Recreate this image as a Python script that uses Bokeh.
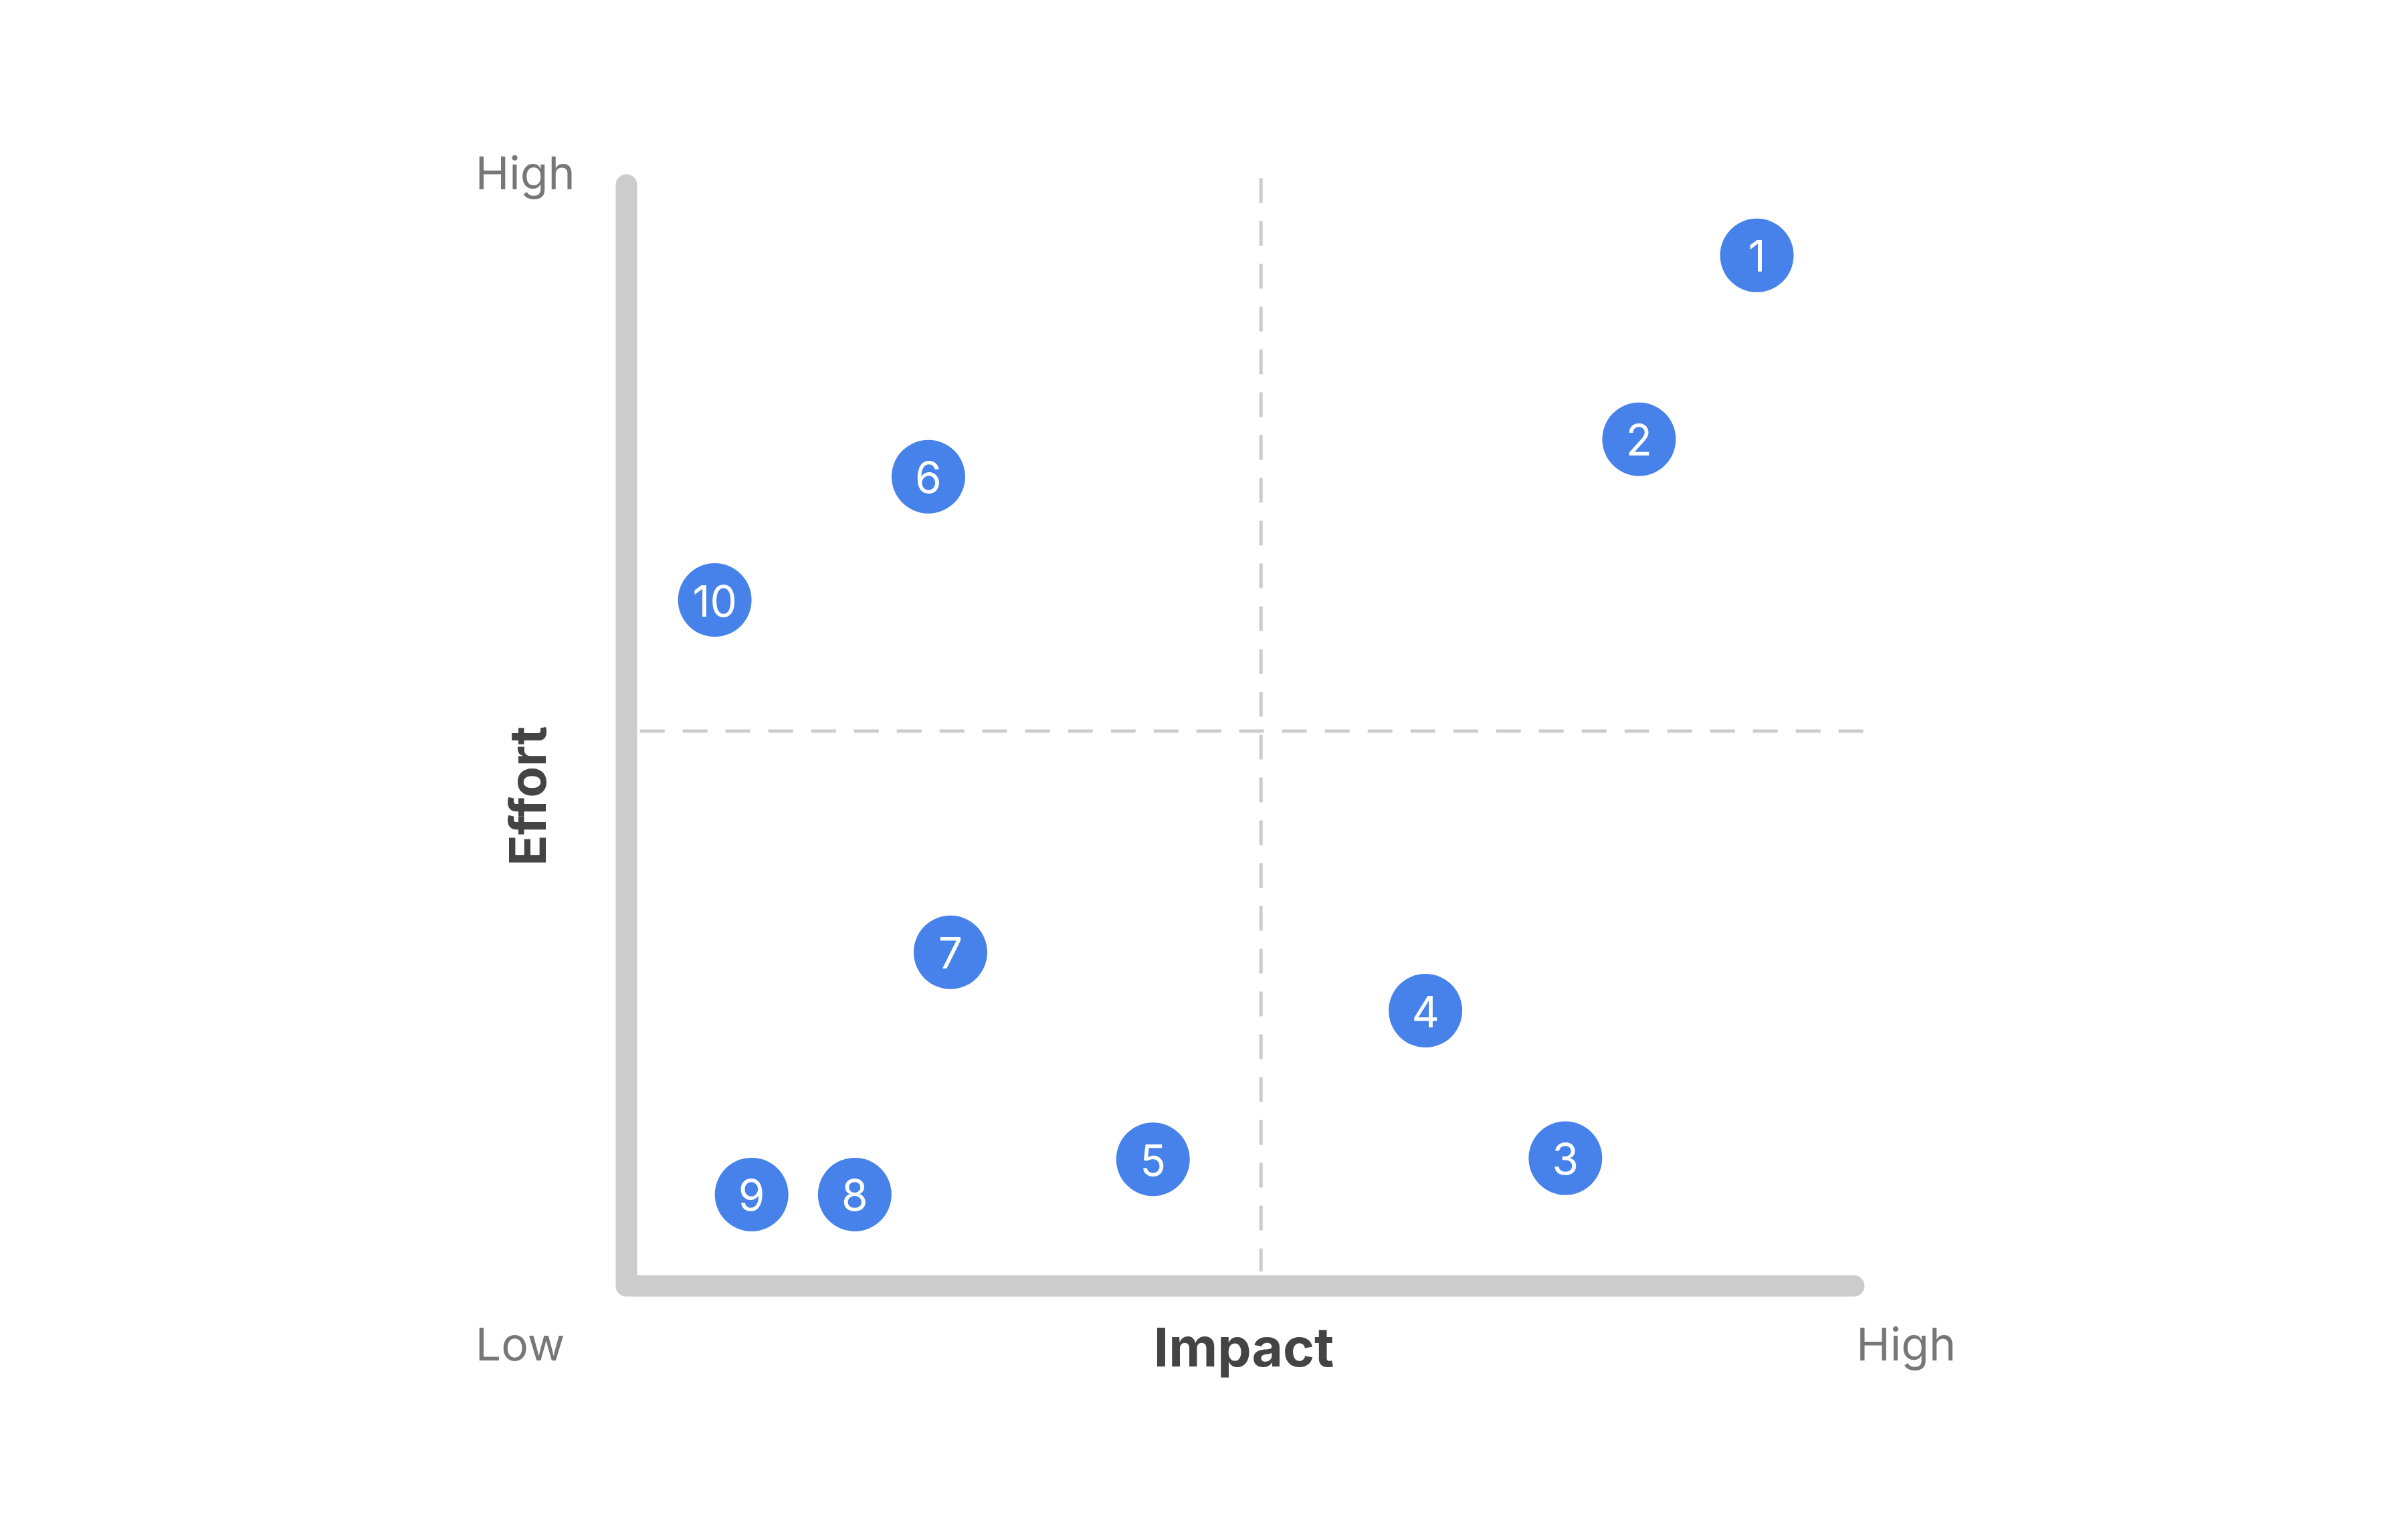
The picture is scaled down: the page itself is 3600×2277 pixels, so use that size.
from bokeh.plotting import figure
from bokeh.models import Range1d, ColumnDataSource
from bokeh.core.properties import value
from bokeh.embed import file_html
from bokeh.resources import INLINE
import math

# ---- data ----
labels = ["1", "2", "3", "4", "5", "6", "7", "8", "9", "10"]
impact = [92.1, 82.5, 76.5, 65.1, 42.9, 24.6, 26.4, 18.6, 10.2, 7.2]
effort = [93.6, 76.9, 11.6, 25.0, 11.5, 73.5, 30.3, 8.3, 8.3, 62.3]
x_divider = 51.7
y_divider = 50.4

W, H = 3584, 2261
px_x = 18.35   # pixels per impact unit
px_y = 16.46   # pixels per effort unit
x0_px, y0_px = 936, 1922  # origin position within figure

x_start = -x0_px / px_x
y_end = y0_px / px_y

p = figure(width=W, height=H, output_backend="svg", toolbar_location=None,
           x_range=Range1d(x_start, x_start + W / px_x),
           y_range=Range1d(y_end - H / px_y, y_end),
           min_border=0, outline_line_color=None)
p.axis.visible = False
p.grid.visible = False
p.background_fill_color = "white"
p.border_fill_color = "white"

# dashed quadrant dividers
p.line([x_divider, x_divider], [100.6, 1.3], line_color="#cccccc", line_width=5,
       line_dash="37 27")
p.line([1.1, 100.8], [y_divider, y_divider], line_color="#cccccc", line_width=5,
       line_dash="37 27")

# L-shaped axes
p.line([0, 0, 100], [100, 0, 0], line_color="#cccccc", line_width=32,
       line_cap="round", line_join="round")

src = ColumnDataSource(dict(x=impact, y=effort, t=labels))
p.scatter("x", "y", source=src, size=110, fill_color="#4682EA", line_color=None)
p.text("x", "y", text="t", source=src, text_align="center", text_baseline="middle",
       text_color="white", text_font=value("Inter"), text_font_size="64px",
       y_offset=1)

font = value("Inter")
p.text([-12.3], [101.1], text=["High"], text_align="left", text_baseline="alphabetic",
       text_color="#777777", text_font=font, text_font_size="68px")
p.text([-12.3], [-5.25], text=["Low"], text_align="left", text_baseline="alphabetic",
       text_color="#777777", text_font=font, text_font_size="68px")
p.text([100.2], [-5.25], text=["High"], text_align="left", text_baseline="alphabetic",
       text_color="#777777", text_font=font, text_font_size="68px")
p.text([50.3], [-5.55], text=["Impact"], text_align="center", text_baseline="alphabetic",
       text_color="#444444", text_font=font, text_font_size="80px", text_font_style="bold")
p.text([-8.1], [44.5], text=["Effort"], text_align="center", text_baseline="alphabetic",
       angle=math.pi / 2, text_color="#444444", text_font=font, text_font_size="76px",
       text_font_style="bold")

open("out.html", "w").write(file_html(p, INLINE))
